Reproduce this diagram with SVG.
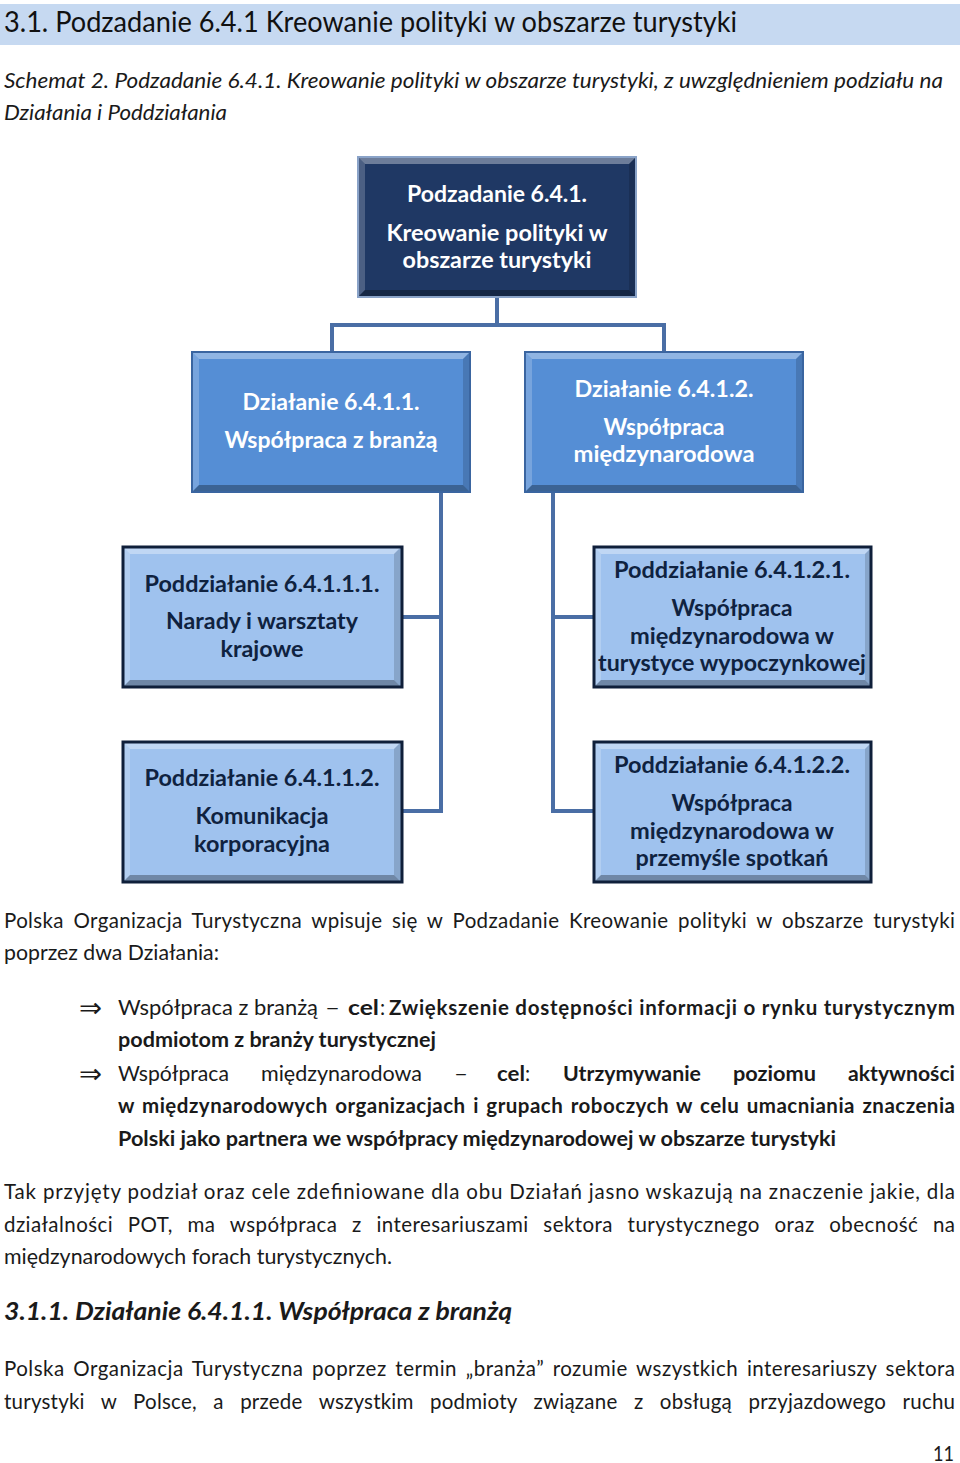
<svg xmlns="http://www.w3.org/2000/svg" xmlns:xlink="http://www.w3.org/1999/xlink" width="960" height="1463" viewBox="0 0 960 1463">
<style>
  .hdr{font-family:Lato,"Liberation Sans",sans-serif;font-size:29px;fill:#111}
  .cap{font-family:Lato,"Liberation Sans",sans-serif;font-size:21px;font-style:italic;fill:#1a1a1a}
  .body{font-family:Lato,"Liberation Sans",sans-serif;font-size:20.5px;fill:#1a1a1a}
  .b{font-weight:bold}
  .arrow{font-family:"DejaVu Sans",sans-serif;font-size:27px;fill:#1a1a1a}
  .h2{font-family:Lato,"Liberation Sans",sans-serif;font-size:25px;font-weight:bold;font-style:italic;fill:#1a1a1a}
  .nt{font-family:Lato,"Liberation Sans",sans-serif;font-size:22.5px;font-weight:bold;text-anchor:middle}
  .w{fill:#ffffff}
  .d{fill:#0f2240}
  .conn{stroke:#4a6ea5;stroke-width:4;fill:none;stroke-linecap:square}
</style>
<defs>
  <g id="bevel">
    <polygon points="0,0 278,0 271,7 7,7" fill="#ffffff" fill-opacity="0.35"/>
    <polygon points="0,0 7,7 7,133 0,140" fill="#ffffff" fill-opacity="0.2"/>
    <polygon points="0,140 7,133 271,133 278,140" fill="#000000" fill-opacity="0.3"/>
    <polygon points="278,0 278,140 271,133 271,7" fill="#000000" fill-opacity="0.15"/>
  </g>
</defs>
<rect x="0" y="0" width="960" height="1463" fill="#ffffff"/>

<g id="header">
  <rect x="0" y="4" width="960" height="41" fill="#c6d9f1"/>
  <text class="hdr" x="4" y="32" textLength="733" lengthAdjust="spacingAndGlyphs">3.1. Podzadanie 6.4.1 Kreowanie polityki w obszarze turystyki</text>
</g>

<g id="caption">
  <text class="cap" x="4" y="88" textLength="939" lengthAdjust="spacingAndGlyphs">Schemat 2. Podzadanie 6.4.1. Kreowanie polityki w obszarze turystyki, z uwzględnieniem podziału na</text>
  <text class="cap" x="4" y="120" textLength="223" lengthAdjust="spacingAndGlyphs">Działania i Poddziałania</text>
</g>

<g id="connectors">
  <path class="conn" d="M497,296 V325 M332,325 H664 M332,325 V352 M664,325 V352"/>
  <path class="conn" d="M441,491 V811 M402,617 H441 M402,811 H441"/>
  <path class="conn" d="M553,491 V811 M553,617 H594 M553,811 H594"/>
</g>

<g id="node-root">
  <rect x="358" y="157" width="278" height="140" fill="#1f3864"/>
  <use xlink:href="#bevel" x="358" y="157"/>
  <rect x="358" y="157" width="278" height="140" fill="none" stroke="#8aa3c8" stroke-width="2"/>
  <text class="nt w" x="497" y="202" textLength="180" lengthAdjust="spacingAndGlyphs">Podzadanie 6.4.1.</text>
  <text class="nt w" x="497" y="241" textLength="221" lengthAdjust="spacingAndGlyphs">Kreowanie polityki w</text>
  <text class="nt w" x="497" y="268" textLength="189" lengthAdjust="spacingAndGlyphs">obszarze turystyki</text>
</g>

<g id="node-d1">
  <rect x="192" y="352" width="278" height="140" fill="#558ed5"/>
  <use xlink:href="#bevel" x="192" y="352"/>
  <rect x="192" y="352" width="278" height="140" fill="none" stroke="#3a65a0" stroke-width="2"/>
  <text class="nt w" x="331" y="410" textLength="177" lengthAdjust="spacingAndGlyphs">Działanie 6.4.1.1.</text>
  <text class="nt w" x="331" y="448" textLength="213" lengthAdjust="spacingAndGlyphs">Współpraca z branżą</text>
</g>

<g id="node-d2">
  <rect x="525" y="352" width="278" height="140" fill="#558ed5"/>
  <use xlink:href="#bevel" x="525" y="352"/>
  <rect x="525" y="352" width="278" height="140" fill="none" stroke="#3a65a0" stroke-width="2"/>
  <text class="nt w" x="664" y="397" textLength="179" lengthAdjust="spacingAndGlyphs">Działanie 6.4.1.2.</text>
  <text class="nt w" x="664" y="435" textLength="121" lengthAdjust="spacingAndGlyphs">Współpraca</text>
  <text class="nt w" x="664" y="462" textLength="181" lengthAdjust="spacingAndGlyphs">międzynarodowa</text>
</g>

<g id="node-p111">
  <rect x="123" y="547" width="279" height="140" fill="#9fc2ee"/>
  <use xlink:href="#bevel" x="123" y="547"/>
  <rect x="123" y="547" width="279" height="140" fill="none" stroke="#0f1f3a" stroke-width="3"/>
  <text class="nt d" x="262" y="592" textLength="235" lengthAdjust="spacingAndGlyphs">Poddziałanie 6.4.1.1.1.</text>
  <text class="nt d" x="262" y="629" textLength="192" lengthAdjust="spacingAndGlyphs">Narady i warsztaty</text>
  <text class="nt d" x="262" y="657" textLength="83" lengthAdjust="spacingAndGlyphs">krajowe</text>
</g>

<g id="node-p112">
  <rect x="123" y="742" width="279" height="140" fill="#9fc2ee"/>
  <use xlink:href="#bevel" x="123" y="742"/>
  <rect x="123" y="742" width="279" height="140" fill="none" stroke="#0f1f3a" stroke-width="3"/>
  <text class="nt d" x="262" y="786" textLength="235" lengthAdjust="spacingAndGlyphs">Poddziałanie 6.4.1.1.2.</text>
  <text class="nt d" x="262" y="824" textLength="133" lengthAdjust="spacingAndGlyphs">Komunikacja</text>
  <text class="nt d" x="262" y="852" textLength="136" lengthAdjust="spacingAndGlyphs">korporacyjna</text>
</g>

<g id="node-p121">
  <rect x="594" y="547" width="277" height="140" fill="#9fc2ee"/>
  <use xlink:href="#bevel" x="594" y="547"/>
  <rect x="594" y="547" width="277" height="140" fill="none" stroke="#0f1f3a" stroke-width="3"/>
  <text class="nt d" x="732" y="578" textLength="236" lengthAdjust="spacingAndGlyphs">Poddziałanie 6.4.1.2.1.</text>
  <text class="nt d" x="732" y="616" textLength="121" lengthAdjust="spacingAndGlyphs">Współpraca</text>
  <text class="nt d" x="732" y="644" textLength="204" lengthAdjust="spacingAndGlyphs">międzynarodowa w</text>
  <text class="nt d" x="732" y="671" textLength="268" lengthAdjust="spacingAndGlyphs">turystyce wypoczynkowej</text>
</g>

<g id="node-p122">
  <rect x="594" y="742" width="277" height="140" fill="#9fc2ee"/>
  <use xlink:href="#bevel" x="594" y="742"/>
  <rect x="594" y="742" width="277" height="140" fill="none" stroke="#0f1f3a" stroke-width="3"/>
  <text class="nt d" x="732" y="773" textLength="236" lengthAdjust="spacingAndGlyphs">Poddziałanie 6.4.1.2.2.</text>
  <text class="nt d" x="732" y="811" textLength="121" lengthAdjust="spacingAndGlyphs">Współpraca</text>
  <text class="nt d" x="732" y="839" textLength="204" lengthAdjust="spacingAndGlyphs">międzynarodowa w</text>
  <text class="nt d" x="732" y="866" textLength="193" lengthAdjust="spacingAndGlyphs">przemyśle spotkań</text>
</g>

<g id="body-text">
  <text class="body" x="4" y="928" word-spacing="4" textLength="951" lengthAdjust="spacing">Polska Organizacja Turystyczna wpisuje się w Podzadanie Kreowanie polityki w obszarze turystyki</text>
  <text class="body" x="4" y="960" textLength="215" lengthAdjust="spacingAndGlyphs">poprzez dwa Działania:</text>

  <text class="arrow" x="79" y="1017" textLength="23" lengthAdjust="spacingAndGlyphs">⇒</text>
  <text class="body" x="118" y="1015" textLength="200" lengthAdjust="spacingAndGlyphs">Współpraca z branżą</text>
  <text class="body" x="325" y="1015" textLength="15" lengthAdjust="spacingAndGlyphs">–</text>
  <text class="body b" x="348" y="1015" textLength="31" lengthAdjust="spacingAndGlyphs">cel</text>
  <text class="body" x="380" y="1015">:</text>
  <text class="body b" x="389" y="1015" textLength="566" lengthAdjust="spacing">Zwiększenie dostępności informacji o rynku turystycznym</text>
  <text class="body b" x="118" y="1047" textLength="318" lengthAdjust="spacingAndGlyphs">podmiotom z branży turystycznej</text>

  <text class="arrow" x="79" y="1083" textLength="23" lengthAdjust="spacingAndGlyphs">⇒</text>
  <text class="body" x="118" y="1081" textLength="111" lengthAdjust="spacingAndGlyphs">Współpraca</text>
  <text class="body" x="261" y="1081" textLength="161" lengthAdjust="spacingAndGlyphs">międzynarodowa</text>
  <text class="body" x="454" y="1081" textLength="14" lengthAdjust="spacingAndGlyphs">–</text>
  <text class="body b" x="497" y="1081" textLength="28" lengthAdjust="spacingAndGlyphs">cel</text>
  <text class="body" x="525" y="1081">:</text>
  <text class="body b" x="563" y="1081" textLength="138" lengthAdjust="spacingAndGlyphs">Utrzymywanie</text>
  <text class="body b" x="733" y="1081" textLength="83" lengthAdjust="spacingAndGlyphs">poziomu</text>
  <text class="body b" x="848" y="1081" textLength="107" lengthAdjust="spacingAndGlyphs">aktywności</text>
  <text class="body b" x="118" y="1113" word-spacing="2" textLength="837" lengthAdjust="spacing">w międzynarodowych organizacjach i grupach roboczych w celu umacniania znaczenia</text>
  <text class="body b" x="118" y="1146" textLength="718" lengthAdjust="spacingAndGlyphs">Polski jako partnera we współpracy międzynarodowej w obszarze turystyki</text>

  <text class="body" x="4" y="1199" textLength="951" lengthAdjust="spacing">Tak przyjęty podział oraz cele zdefiniowane dla obu Działań jasno wskazują na znaczenie jakie, dla</text>
  <text class="body" x="4" y="1232" word-spacing="9" textLength="951" lengthAdjust="spacing">działalności POT, ma współpraca z interesariuszami sektora turystycznego oraz obecność na</text>
  <text class="body" x="4" y="1264" textLength="388" lengthAdjust="spacingAndGlyphs">międzynarodowych forach turystycznych.</text>

  <text class="h2" x="4" y="1320" textLength="508" lengthAdjust="spacingAndGlyphs">3.1.1. Działanie 6.4.1.1. Współpraca z branżą</text>

  <text class="body" x="4" y="1376" word-spacing="3" textLength="951" lengthAdjust="spacing">Polska Organizacja Turystyczna poprzez termin „branża” rozumie wszystkich interesariuszy sektora</text>
  <text class="body" x="4" y="1409" word-spacing="11" textLength="951" lengthAdjust="spacing">turystyki w Polsce, a przede wszystkim podmioty związane z obsługą przyjazdowego ruchu</text>

  <text class="body" x="933" y="1461" textLength="21" lengthAdjust="spacingAndGlyphs">11</text>
</g>
</svg>
